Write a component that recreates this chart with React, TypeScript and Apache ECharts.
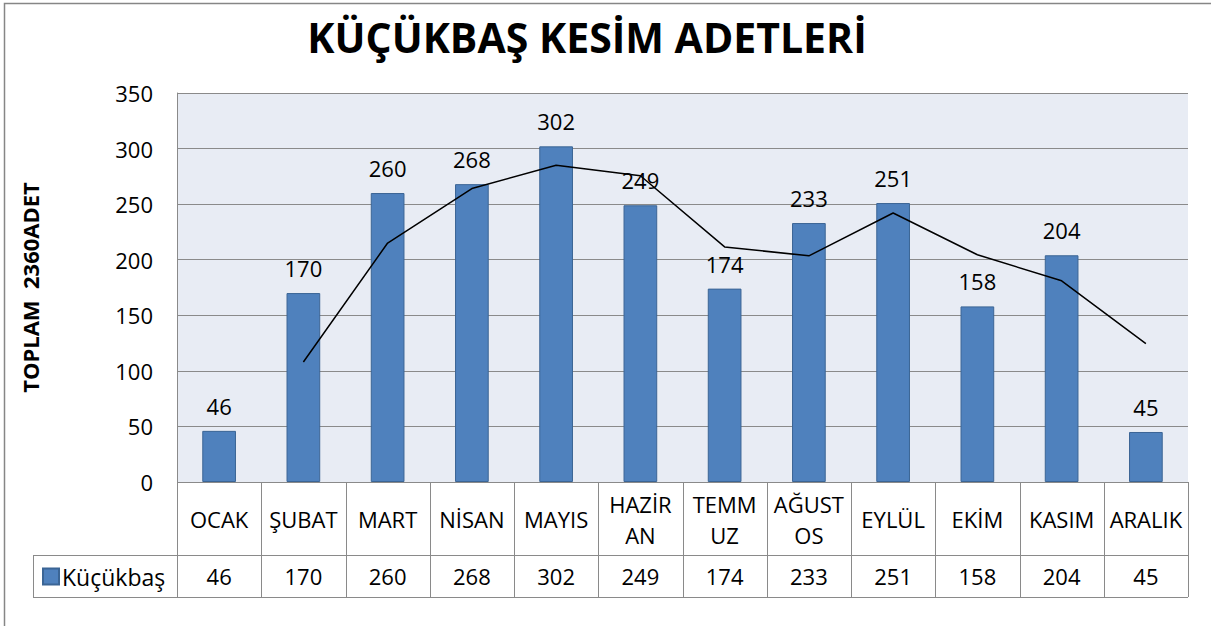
import React, { useEffect, useRef } from "react";
import * as echarts from "echarts";

const months = ["OCAK", "ŞUBAT", "MART", "NİSAN", "MAYIS", "HAZİRAN", "TEMMUZ", "AĞUSTOS", "EYLÜL", "EKİM", "KASIM", "ARALIK"];
const monthDisplay: Record<string, string> = { "HAZİRAN": "HAZİR\nAN", "TEMMUZ": "TEMM\nUZ", "AĞUSTOS": "AĞUST\nOS" };
const values = [46, 170, 260, 268, 302, 249, 174, 233, 251, 158, 204, 45];
// 2-period moving average trend line
const trend = [null, 108, 215, 264, 285, 275.5, 211.5, 203.5, 242, 204.5, 181, 124.5];
const seriesName = "Küçükbaş";
const titleText = "KÜÇÜKBAŞ KESİM ADETLERİ";
const yAxisName = "TOPLAM  2360ADET";
const yMin = 0, yMax = 350, yInterval = 50;

const W = 1211, H = 626;
const gridL = 177, gridR = 1188, gridT = 93, gridB = 482;
const row1B = 555, row2B = 597, legendL = 33;
const FONT = "'Open Sans', 'Noto Sans', sans-serif";
const lineColor = "#8a8a8a";
const FS = 22;

export default function App() {
  const ref = useRef<HTMLDivElement>(null);
  useEffect(() => {
    if (!ref.current) return;
    const chart = echarts.init(ref.current, null, { renderer: "svg" });
    const catW = (gridR - gridL) / months.length;
    const tableLines: any[] = [];
    const hl = (x1: number, x2: number, y: number) =>
      tableLines.push({ type: "line", shape: { x1, y1: y, x2, y2: y }, style: { stroke: lineColor, lineWidth: 1 }, silent: true });
    const vl = (x: number, y1: number, y2: number) =>
      tableLines.push({ type: "line", shape: { x1: x, y1, x2: x, y2 }, style: { stroke: lineColor, lineWidth: 1 }, silent: true });
    hl(gridL, gridR, gridB + 0.5);
    hl(legendL, gridR, row1B + 0.5);
    hl(legendL, gridR, row2B + 0.5);
    for (let i = 0; i <= months.length; i++) {
      const x = Math.round(gridL + i * catW) + 0.5;
      vl(x, gridB, row2B);
    }
    vl(legendL + 0.5, row1B, row2B);

    chart.setOption({
      animation: false,
      textStyle: { fontFamily: FONT },
      title: {
        text: titleText,
        left: 582,
        textAlign: "center",
        top: 11,
        textStyle: { fontFamily: FONT, fontWeight: "bold", fontSize: 41, color: "#000" },
      },
      legend: {
        data: [seriesName],
        left: 42,
        top: 565,
        padding: 0,
        icon: "rect",
        itemWidth: 16,
        itemHeight: 16,
        textStyle: { fontFamily: FONT, fontSize: 23, color: "#000", padding: [0, 0, 0, -2] },
      },
      grid: {
        left: gridL,
        top: gridT,
        width: gridR - gridL,
        height: gridB - gridT,
        show: true,
        backgroundColor: "#E8ECF4",
        borderWidth: 0,
      },
      xAxis: [
        {
          type: "category",
          data: months,
          position: "bottom",
          axisLine: { show: false },
          axisTick: { show: false },
          axisLabel: {
            interval: 0,
            margin: 37,
            verticalAlign: "middle",
            lineHeight: 31,
            fontFamily: FONT,
            fontSize: FS,
            color: "#000",
            formatter: (v: string) => monthDisplay[v] || v,
          },
        },
        {
          type: "category",
          data: months,
          position: "bottom",
          axisLine: { show: false },
          axisTick: { show: false },
          axisLabel: {
            interval: 0,
            margin: 94,
            verticalAlign: "middle",
            fontFamily: FONT,
            fontSize: FS,
            color: "#000",
            formatter: (_v: string, i: number) => String(values[i]),
          },
        },
      ],
      yAxis: {
        type: "value",
        min: yMin,
        max: yMax,
        interval: yInterval,
        name: yAxisName,
        nameLocation: "middle",
        nameGap: 136,
        nameRotate: 90,
        nameTextStyle: { fontFamily: FONT, fontWeight: "bold", fontSize: 22, color: "#000" },
        axisLine: { show: true, lineStyle: { color: lineColor, width: 1 } },
        axisTick: { show: false },
        axisLabel: { margin: 24, fontFamily: FONT, fontSize: FS, color: "#000" },
        splitLine: { show: true, lineStyle: { color: lineColor, width: 1 } },
      },
      series: [
        {
          name: seriesName,
          type: "bar",
          xAxisIndex: 0,
          data: values,
          barWidth: "40%",
          itemStyle: { color: "#4F81BD", borderColor: "#3B6595", borderWidth: 1 },
          label: {
            show: true,
            position: "top",
            distance: 14,
            fontFamily: FONT,
            fontSize: FS,
            color: "#000",
          },
        },
        {
          name: "2 Per. Ort. Hrkt. (Küçükbaş)",
          type: "line",
          xAxisIndex: 0,
          data: trend,
          symbol: "none",
          lineStyle: { color: "#000", width: 1.5 },
          itemStyle: { color: "#000" },
          z: 5,
        },
      ],
      graphic: [
        {
          type: "rect",
          shape: { x: 4.5, y: 3.5, width: W + 100, height: H + 100 },
          style: { fill: "none", stroke: "#868686", lineWidth: 1.5 },
          silent: true,
          z: 100,
        },
        ...tableLines,
      ],
    });
    return () => chart.dispose();
  }, []);
  return <div ref={ref} style={{ position: "fixed", left: 0, top: 0, width: W, height: H, background: "#fff" }} />;
}
